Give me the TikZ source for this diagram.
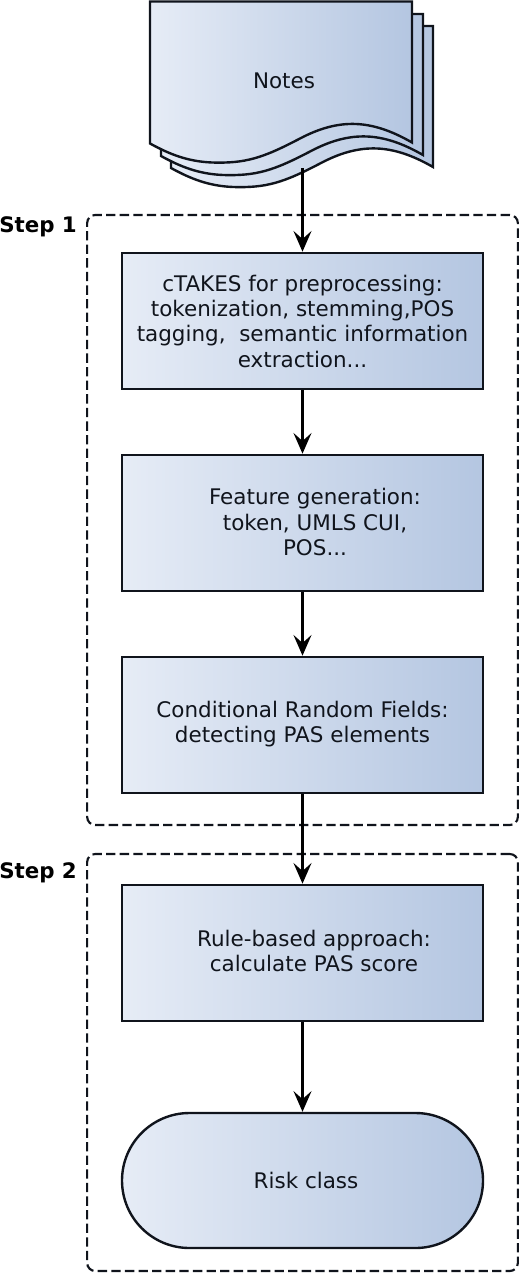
\documentclass[tikz,border=0pt]{standalone}
\usepackage{fontspec}
\setmainfont{DejaVu Sans}
\usetikzlibrary{arrows.meta,shapes.misc}
\definecolor{gradL}{HTML}{E6ECF6}
\definecolor{gradR}{HTML}{B4C6E1}
\definecolor{inkc}{HTML}{10141C}
\tikzset{
  x=0.75pt,y=-0.75pt,
  boxshape/.style={draw=inkc,line width=2pt,left color=gradL,right color=gradR,rectangle,minimum width=270.75pt,minimum height=102pt,inner sep=0pt},
  endshape/.style={draw=inkc,line width=1.8pt,left color=gradL,right color=gradR,rounded rectangle,rounded rectangle arc length=180,minimum width=270.75pt,minimum height=101.25pt,inner sep=0pt},
  pagepath/.style={draw=inkc,line width=1.8pt,line join=miter,left color=gradL,right color=gradR},
  groupbox/.style={draw=inkc,line width=1.6pt,dash pattern=on 7pt off 3.2pt,rounded corners=6pt},
  txt/.style={text=inkc,font=\fontsize{16.1pt}{19pt}\selectfont,align=center,inner sep=0pt},
  steplabel/.style={text=black,font=\fontsize{16pt}{18pt}\selectfont\bfseries,anchor=west,inner sep=0pt},
  flow/.style={draw=black,line width=1.7pt,-{Stealth[length=15.5pt,width=13.5pt,inset=6pt]}}
}
\newcommand{\docpage}[2]{%
  \path[pagepath] (#1,#2) -- (#1+262,#2) -- (#1+262,#2+141)
    .. controls (#1+222,#2+118) and (#1+190,#2+116) .. (#1+150,#2+137)
    .. controls (#1+112,#2+157) and (#1+95,#2+162) .. (#1+62,#2+161)
    .. controls (#1+38,#2+160) and (#1+20,#2+153) .. (#1,#2+142) -- cycle;}
\begin{document}
\begin{tikzpicture}
\useasboundingbox (0,0) rectangle (520,1273);
% groups
\node[groupbox,minimum width=323pt,minimum height=457.5pt,inner sep=0pt] (groupa) at (302.5,520) {};
\node[groupbox,minimum width=323pt,minimum height=312.75pt,inner sep=0pt] (groupb) at (302.5,1062.5) {};
\node[steplabel] (stepa) at (-1,227) {Step 1};
\node[steplabel] (stepb) at (-1,873) {Step 2};
% document stack
\docpage{171}{26}
\docpage{161}{14}
\docpage{150}{1.5}
\node[txt] (notes) at (284,81) {Notes};
\coordinate (notesbottom) at (302.5,168);
% boxes
\node[boxshape] (boxa) at (302.5,321) {};
\node[boxshape] (boxb) at (302.5,523) {};
\node[boxshape] (boxc) at (302.5,725) {};
\node[boxshape] (boxd) at (302.5,953) {};
\node[endshape] (boxe) at (302.5,1180.5) {};
% texts
\node[txt] (txta) at (302.5,321) {cTAKES for preprocessing:\\tokenization, stemming,POS\\tagging,\ \ semantic information\\extraction...};
\node[txt] (txtb) at (315,522) {Feature generation:\\token, UMLS CUI,\\POS...};
\node[txt] (txtc) at (302.5,724) {Conditional Random Fields:\\detecting PAS elements};
\node[txt] (txtd) at (314,951) {Rule-based approach:\\calculate PAS score};
\node[txt] (txte) at (306,1180) {Risk class};
% connectors
\draw[flow] (notesbottom) -- (boxa.north);
\draw[flow] (boxa) -- (boxb);
\draw[flow] (boxb) -- (boxc);
\draw[flow] (boxc) -- (boxd);
\draw[flow] (boxd) -- (boxe);
\end{tikzpicture}
\end{document}
